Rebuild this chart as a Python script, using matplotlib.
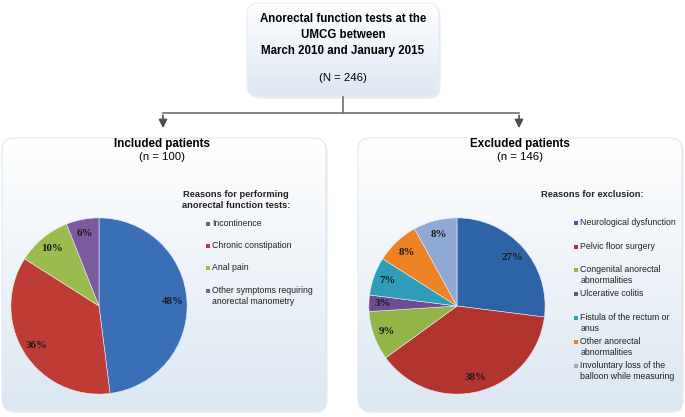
import matplotlib
matplotlib.use("Agg")
import matplotlib.pyplot as plt
import numpy as np
from matplotlib.patches import FancyBboxPatch

# data
incl_labels = ['Incontinence', 'Chronic constipation', 'Anal pain',
               'Other symptoms requiring\nanorectal manometry']
incl_values = [48, 36, 10, 6]
incl_colors = ['#3a6eb6', '#bf3b35', '#9bbb4f', '#7b5a9e']

excl_labels = ['Neurological dysfunction', 'Pelvic floor surgery',
               'Congenital anorectal\nabnormalities', 'Ulcerative colitis',
               'Fistula of the rectum or\nanus', 'Other anorectal\nabnormalities',
               'Involuntary loss of the\nballoon while measuring']
excl_values = [27, 38, 9, 3, 7, 8, 8]
excl_colors = ['#2f63a8', '#b3332f', '#93b446', '#6f4b91', '#2f9db8', '#ee8122', '#8fa9d4']

W, H = 685, 417
plt.rcParams['font.family'] = ['Liberation Sans', 'DejaVu Sans']

fig = plt.figure(figsize=(W / 100, H / 100), dpi=100)
bg = fig.add_axes([0, 0, 1, 1])
bg.set_xlim(0, W)
bg.set_ylim(H, 0)
bg.axis('off')


def gbox(x0, y0, x1, y1, c_top, c_bot, edge):
    # soft shadow on right/bottom
    sh = FancyBboxPatch((x0 + 1.5, y0 + 1.5), x1 - x0, y1 - y0,
                        boxstyle='round,pad=0,rounding_size=12',
                        facecolor='#e2e8ef', edgecolor='none', zorder=0.5)
    bg.add_patch(sh)
    p = FancyBboxPatch((x0, y0), x1 - x0, y1 - y0, boxstyle='round,pad=0,rounding_size=12',
                       facecolor='none', edgecolor=edge, lw=0.8, zorder=2)
    bg.add_patch(p)
    g = np.linspace(0, 1, 100)[:, None]
    ct = np.array(matplotlib.colors.to_rgb(c_top))
    cb = np.array(matplotlib.colors.to_rgb(c_bot))
    img = ct[None, None, :] * (1 - g[..., None]) + cb[None, None, :] * g[..., None]
    im = bg.imshow(img, extent=(x0, x1, y1, y0), aspect='auto', zorder=1)
    im.set_clip_path(p)


gbox(247, 3, 439, 97, '#ffffff', '#dce7f3', '#e8eef5')
gbox(2, 138, 326, 411, '#ffffff', '#dce7f2', '#e0e8f1')
gbox(358, 138, 682, 411, '#ffffff', '#dce7f2', '#e0e8f1')

bg.text(343, 13, 'Anorectal function tests at the\nUMCG between\nMarch 2010 and January 2015',
        ha='center', va='top', fontsize=8.3, fontweight='bold', linespacing=1.45, zorder=3)
bg.text(343, 78, '(N = 246)', ha='center', va='center', fontsize=8.2, zorder=3)

# connectors
lc = '#6e6e6e'
bg.plot([343, 343], [97, 113], color=lc, lw=1.2)
bg.plot([163, 519], [113, 113], color=lc, lw=1.2)
for xa in (163, 519):
    bg.annotate('', xy=(xa, 131), xytext=(xa, 112.5),
                arrowprops=dict(arrowstyle='-|>,head_width=0.25,head_length=0.5',
                                color='#505050', lw=1.2))

bg.text(162, 144, 'Included patients', ha='center', va='center', fontsize=8.4, fontweight='bold', zorder=3)
bg.text(162, 157, '(n = 100)', ha='center', va='center', fontsize=8.2, zorder=3)
bg.text(520, 144, 'Excluded patients', ha='center', va='center', fontsize=8.4, fontweight='bold', zorder=3)
bg.text(520, 157, '(n = 146)', ha='center', va='center', fontsize=8.2, zorder=3)


def pie_at(cx, cy, r, values, colors):
    ax = fig.add_axes([(cx - r) / W, (H - cy - r) / H, 2 * r / W, 2 * r / H])
    ax.pie(values, colors=colors, startangle=90, counterclock=False,
           autopct='%.0f%%', pctdistance=0.84,
           wedgeprops=dict(edgecolor='#e8eef5', linewidth=0.4),
           textprops=dict(family='Liberation Serif', fontweight='bold',
                          fontsize=7.8, color='#1a1a1a'))
    ax.set_xlim(-1.01, 1.01)
    ax.set_ylim(-1.01, 1.01)
    ax.set_aspect('equal')
    return ax


pie_at(99, 306, 89, incl_values, incl_colors)
pie_at(457, 306, 89, excl_values, excl_colors)


def legend_at(x, ys, labels, colors):
    for y, lab, col in zip(ys, labels, colors):
        bg.scatter([x], [y], marker='s', s=9, color=col, zorder=4, linewidths=0)
        bg.text(x + 4.5, y - 5, lab, ha='left', va='top', fontsize=6.3, linespacing=1.35,
                color='#222222', zorder=4)


bg.text(236, 200, 'Reasons for performing\nanorectal function tests:', ha='center', va='center',
        fontsize=6.7, fontweight='bold', linespacing=1.25, color='#222222', zorder=3)
legend_at(208, [224, 246, 268, 291], incl_labels, incl_colors)

bg.text(592, 194, 'Reasons for exclusion:', ha='center', va='center',
        fontsize=6.7, fontweight='bold', color='#222222', zorder=3)
legend_at(576, [223, 247, 270, 294, 318, 342, 366], excl_labels, excl_colors)

fig.savefig('out.png', dpi=100)
